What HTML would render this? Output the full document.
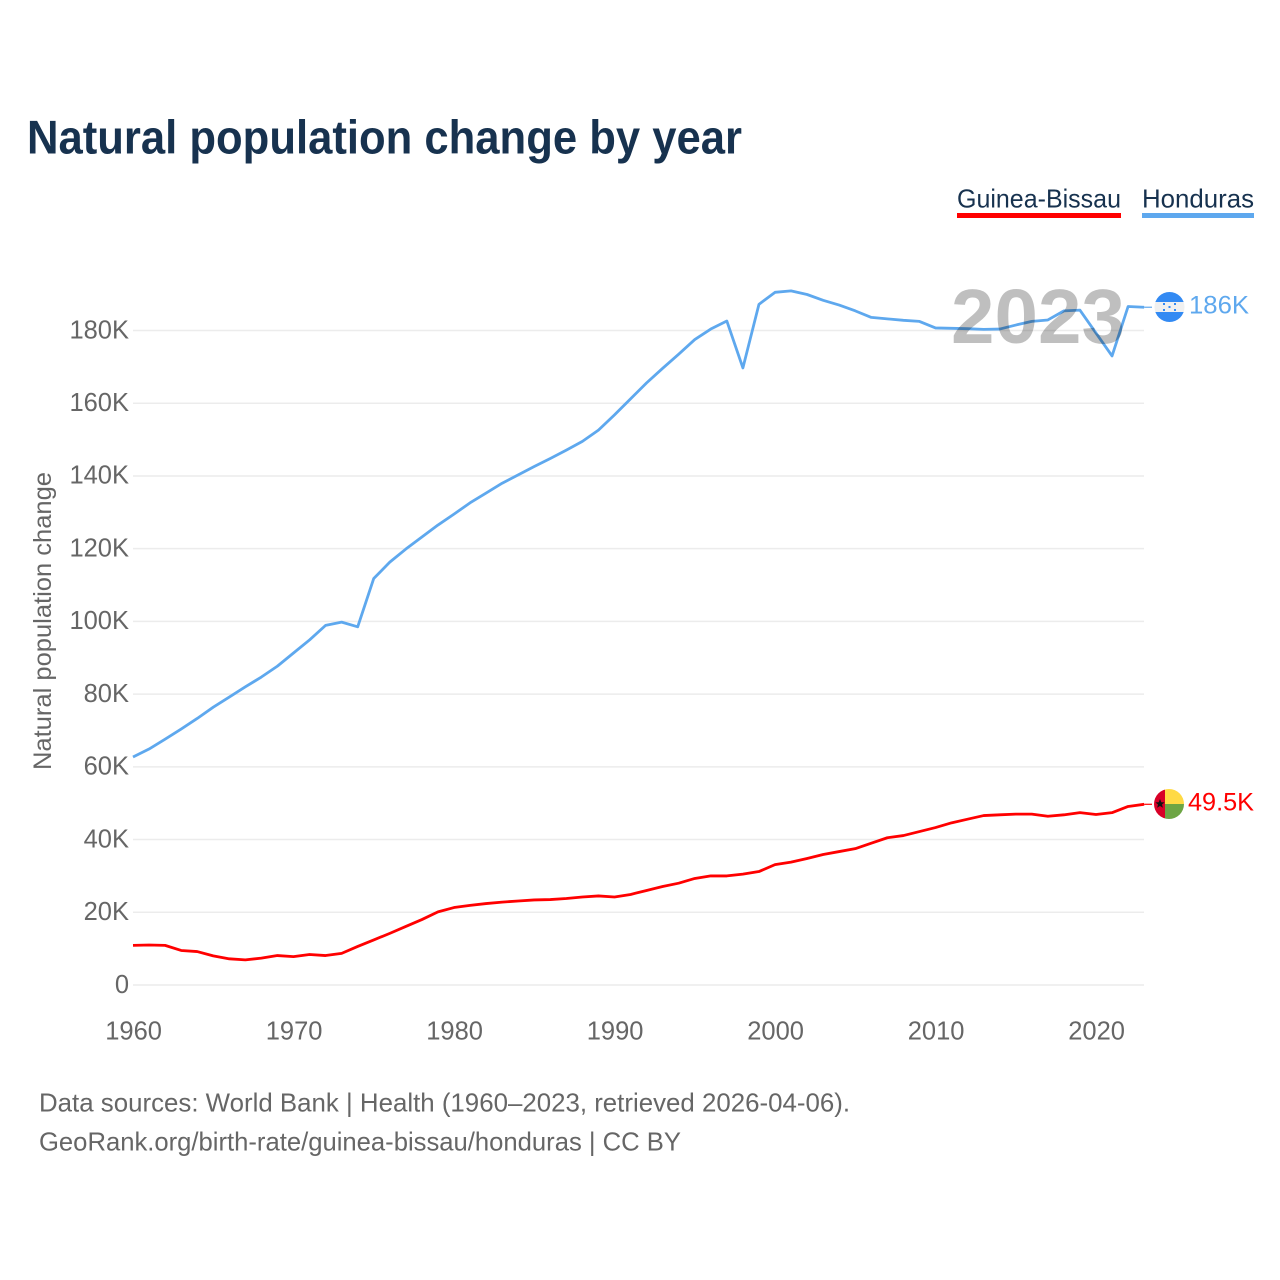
<!DOCTYPE html>
<html lang="en">
<head>
<meta charset="utf-8">
<title>Natural population change by year</title>
<style>
html,body{margin:0;padding:0;background:#fff;}
svg{display:block;}
text{font-family:"Liberation Sans",sans-serif;}
</style>
</head>
<body>
<svg id="chart" width="1280" height="1280" viewBox="0 0 1280 1280" xmlns="http://www.w3.org/2000/svg">
  <rect width="1280" height="1280" fill="#fff"/>
  <text x="27" y="153.5" font-size="47" font-weight="700" fill="#17324f" textLength="715" lengthAdjust="spacingAndGlyphs">Natural population change by year</text>

  <g>
    <text x="957" y="207.5" font-size="26" fill="#17324f" textLength="164" lengthAdjust="spacingAndGlyphs">Guinea-Bissau</text>
    <rect x="957" y="213" width="164" height="5" fill="#ff0000"/>
  </g>
  <g>
    <text x="1142" y="207.5" font-size="26" fill="#17324f" textLength="112" lengthAdjust="spacingAndGlyphs">Honduras</text>
    <rect x="1142" y="213" width="112" height="5" fill="#5ea8ee"/>
  </g>

  <g id="grid"></g>
  <g id="yTicks"></g>
  <g id="xTicks"></g>
  <text transform="translate(51,621) rotate(-90)" text-anchor="middle" font-size="25" fill="#666" textLength="298" lengthAdjust="spacingAndGlyphs">Natural population change</text>

  <g id="series"></g>

  <text x="951" y="343" font-size="77" font-weight="700" fill="rgba(0,0,0,0.25)" textLength="174" lengthAdjust="spacingAndGlyphs">2023</text>

  <g id="ends"></g>

  <g id="flagHN">
    <clipPath id="clipHN"><circle cx="1169.5" cy="307" r="15"/></clipPath>
    <g clip-path="url(#clipHN)">
      <rect x="1154" y="292" width="31" height="10" fill="#338af3"/>
      <rect x="1154" y="302" width="31" height="10.5" fill="#f0f0f0"/>
      <rect x="1154" y="312" width="31" height="10" fill="#338af3"/>
      <g fill="#338af3">
        <rect x="1163" y="303" width="2" height="2"/><rect x="1174" y="303" width="2" height="2"/>
        <rect x="1168.5" y="306" width="2" height="2"/>
        <rect x="1163" y="309" width="2" height="2"/><rect x="1174" y="309" width="2" height="2"/>
      </g>
    </g>
  </g>
  <g id="flagGW">
    <clipPath id="clipGW"><circle cx="1169" cy="804" r="15"/></clipPath>
    <g clip-path="url(#clipGW)">
      <rect x="1154" y="789" width="11" height="30" fill="#d80027"/>
      <rect x="1165" y="789" width="20" height="15" fill="#ffda44"/>
      <rect x="1165" y="804" width="20" height="15" fill="#6da544"/>
      <polygon points="1160,799 1161.3,802.2 1164.6,802.4 1162,804.5 1162.9,807.8 1160,806 1157.1,807.8 1158,804.5 1155.4,802.4 1158.7,802.2" fill="#111"/>
    </g>
  </g>

  <text x="1189" y="313.5" font-size="25" fill="#5ea8ee" textLength="60" lengthAdjust="spacingAndGlyphs">186K</text>
  <text x="1188" y="810.5" font-size="25" fill="#ff0000" textLength="66" lengthAdjust="spacingAndGlyphs">49.5K</text>

  <text x="39" y="1111.5" font-size="26" fill="#666" textLength="811" lengthAdjust="spacingAndGlyphs">Data sources: World Bank | Health (1960–2023, retrieved 2026-04-06).</text>
  <text x="39" y="1150.5" font-size="26" fill="#666" textLength="642" lengthAdjust="spacingAndGlyphs">GeoRank.org/birth-rate/guinea-bissau/honduras | CC BY</text>
</svg>
<script>
const firstYear = 1960;
const yTickValues = [0, 20, 40, 60, 80, 100, 120, 140, 160, 180];
const yTickLabels = ["0", "20K", "40K", "60K", "80K", "100K", "120K", "140K", "160K", "180K"];
const xTickYears = [1960, 1970, 1980, 1990, 2000, 2010, 2020];
const guineaBissau = [10.9,11,10.9,9.5,9.2,8,7.2,6.9,7.4,8.1,7.8,8.4,8.1,8.7,10.6,12.4,14.2,16.1,18,20.1,21.3,21.9,22.4,22.8,23.1,23.4,23.5,23.8,24.2,24.5,24.2,24.9,26,27.1,28,29.3,30,30,30.5,31.2,33.1,33.8,34.8,35.9,36.7,37.5,39,40.5,41.1,42.2,43.3,44.6,45.6,46.6,46.8,47,47,46.4,46.8,47.4,46.9,47.4,49.1,49.7];
const honduras = [62.7,64.9,67.6,70.4,73.3,76.4,79.2,82,84.7,87.7,91.3,94.9,98.9,99.8,98.5,111.8,116.3,119.9,123.2,126.5,129.5,132.6,135.3,138,140.3,142.6,144.8,147.1,149.5,152.6,156.8,161.2,165.6,169.6,173.5,177.5,180.4,182.6,169.7,187.2,190.5,190.9,189.9,188.3,187,185.4,183.6,183.2,182.8,182.5,180.7,180.6,180.5,180.3,180.4,181.5,182.5,182.9,185.4,185.6,179.3,173,186.6,186.4];

const NS = "http://www.w3.org/2000/svg";
const xScale = function (year) { return 133 + (year - 1960) * 16.05; };
const yScale = function (k) { return 985 - k * 3.6361; };

const gridGroup = document.getElementById("grid");
const yTickGroup = document.getElementById("yTicks");
yTickValues.forEach(function (v, i) {
  const line = document.createElementNS(NS, "line");
  
  
  line.setAttribute("x1", xScale(1960));
  line.setAttribute("x2", 1144);
  line.setAttribute("y1", yScale(v));
  line.setAttribute("y2", yScale(v));
  line.setAttribute("stroke", "#ececec");
  line.setAttribute("stroke-width", "1.5");
  gridGroup.appendChild(line);

  const label = document.createElementNS(NS, "text");
  
  
  label.setAttribute("x", 129);
  label.setAttribute("y", yScale(v) + 7.8);
  label.setAttribute("text-anchor", "end");
  label.setAttribute("font-size", "25.5");
  label.setAttribute("fill", "#666");
  label.textContent = yTickLabels[i];
  yTickGroup.appendChild(label);
});

const xTickGroup = document.getElementById("xTicks");
xTickYears.forEach(function (year) {
  const label = document.createElementNS(NS, "text");
  
  
  label.setAttribute("x", xScale(year) + 0.6);
  label.setAttribute("y", 1039.5);
  label.setAttribute("text-anchor", "middle");
  label.setAttribute("font-size", "25.5");
  label.setAttribute("fill", "#666");
  label.textContent = String(year);
  xTickGroup.appendChild(label);
});

function pathFor(values) {
  return values.map(function (v, i) {
    return (i ? "L" : "M") + xScale(firstYear + i).toFixed(2) + " " + yScale(v).toFixed(2);
  }).join(" ");
}

const seriesGroup = document.getElementById("series");
const gbLine = document.createElementNS(NS, "path");


gbLine.setAttribute("d", pathFor(guineaBissau));
gbLine.setAttribute("fill", "none");
gbLine.setAttribute("stroke", "#ff0000");
gbLine.setAttribute("stroke-width", "2.8");
gbLine.setAttribute("stroke-linejoin", "round");
seriesGroup.appendChild(gbLine);

const hnLine = document.createElementNS(NS, "path");


hnLine.setAttribute("d", pathFor(honduras));
hnLine.setAttribute("fill", "none");
hnLine.setAttribute("stroke", "#5ea8ee");
hnLine.setAttribute("stroke-width", "2.8");
hnLine.setAttribute("stroke-linejoin", "round");
seriesGroup.appendChild(hnLine);

const endGroup = document.getElementById("ends");
const gbLead = document.createElementNS(NS, "line");


gbLead.setAttribute("x1", xScale(2023));
gbLead.setAttribute("x2", 1152);
gbLead.setAttribute("y1", yScale(guineaBissau[guineaBissau.length - 1]));
gbLead.setAttribute("y2", yScale(guineaBissau[guineaBissau.length - 1]));
gbLead.setAttribute("stroke", "#ff0000");
gbLead.setAttribute("stroke-width", "1.2");
endGroup.appendChild(gbLead);

const hnLead = document.createElementNS(NS, "line");


hnLead.setAttribute("x1", xScale(2023));
hnLead.setAttribute("x2", 1152);
hnLead.setAttribute("y1", yScale(honduras[honduras.length - 1]));
hnLead.setAttribute("y2", yScale(honduras[honduras.length - 1]));
hnLead.setAttribute("stroke", "#5ea8ee");
hnLead.setAttribute("stroke-width", "1.2");
endGroup.appendChild(hnLead);
</script>
</body>
</html>
